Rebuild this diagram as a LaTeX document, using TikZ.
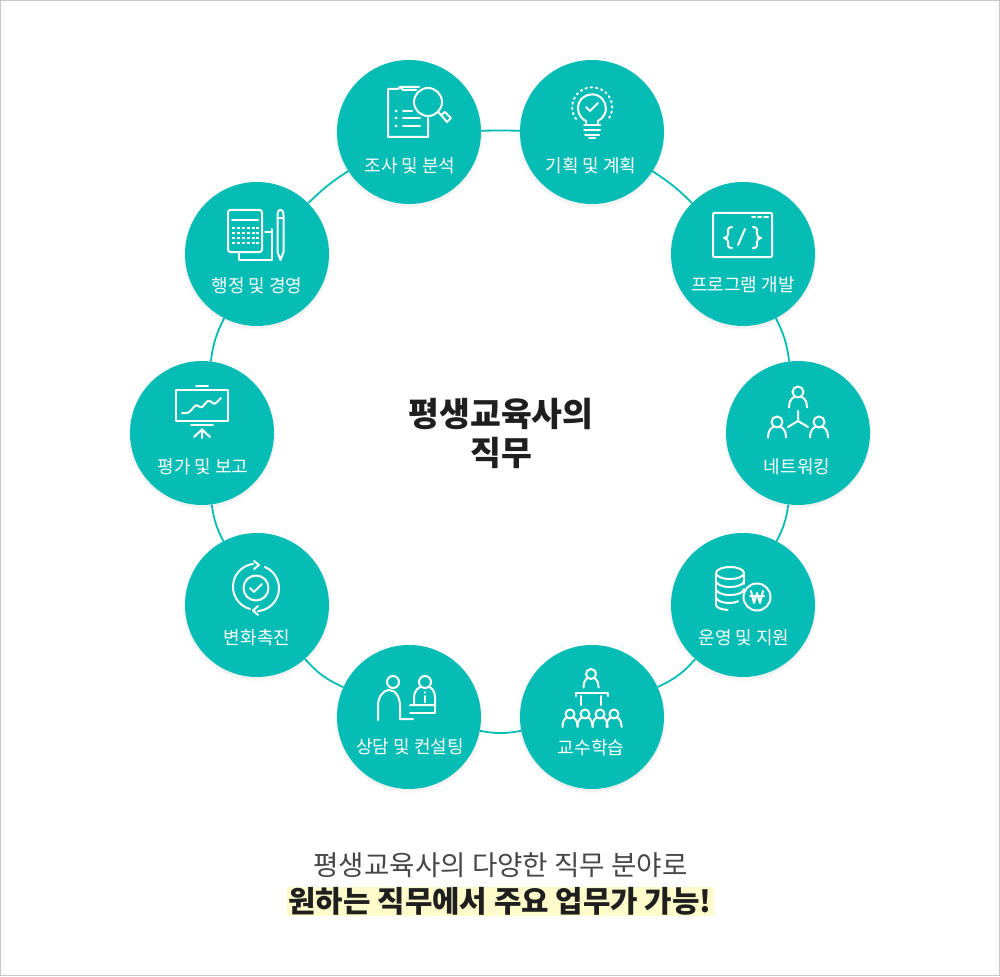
\documentclass[tikz,border=0pt]{standalone}
\usepackage{fontspec}
\usetikzlibrary{backgrounds}
\newfontfamily\kr{Noto Sans CJK KR}
\definecolor{teal1}{HTML}{06BDB6}
\definecolor{hl}{HTML}{FFFBCB}
\tikzset{
 hub/.style={circle,fill=teal1,minimum size=144pt,inner sep=0pt,
   preaction={draw=black,draw opacity=.02,line width=1.5pt,transform canvas={yshift=-1.5pt}},
   preaction={draw=black,draw opacity=.02,line width=3pt,transform canvas={yshift=-1.5pt}},
   preaction={draw=black,draw opacity=.015,line width=5pt,transform canvas={yshift=-2pt}}},
 lab/.style={text=white,font=\kr\fontsize{18pt}{22pt}\selectfont,inner sep=0pt},
 link/.style={draw=teal1,line width=1.8pt},
 ico/.style={draw=white,line width=2pt,line cap=round,line join=round},
 icothin/.style={draw=white,line width=2pt,line cap=round,line join=round},
}
\newcommand{\persona}[4]{% x y headr halfwidth
 \draw[ico] ({#1-#4},{#2+#3+#4+1}) -- ({#1-#4},{#2+#3+#4}) .. controls ({#1-#4},{#2+#3-5}) and ({#1+#4},{#2+#3-5}) .. ({#1+#4},{#2+#3+#4}) -- ({#1+#4},{#2+#3+#4+1});
 \draw[ico,fill=teal1] (#1,#2) circle[radius=#3];
}
\begin{document}
\begin{tikzpicture}[x=1pt,y=-1pt]
\useasboundingbox (0,0) rectangle (1000,976);

\node[hub] (a1) at (409,132) {};
\node[hub] (a2) at (592,132) {};
\node[hub] (a3) at (743,254) {};
\node[hub] (a4) at (798,433) {};
\node[hub] (a5) at (743,605) {};
\node[hub] (a6) at (592,717) {};
\node[hub] (a7) at (409,717) {};
\node[hub] (a8) at (257,605) {};
\node[hub] (a9) at (202,433) {};
\node[hub] (a10) at (257,254) {};

\begin{scope}[on background layer]
\fill[white] (0,0) rectangle (1000,976);
\draw[draw=black!22,line width=1pt] (.5,.5) rectangle (999.5,975.5);
\draw[link] (a1) to[bend left=1] (a2);
\draw[link] (a2) to[bend left=6] (a3);
\draw[link] (a3) to[bend left=10] (a4);
\draw[link] (a4) to[bend left=10] (a5);
\draw[link] (a5) to[bend left=12] (a6);
\draw[link] (a6) to[bend left=11] (a7);
\draw[link] (a7) to[bend left=12] (a8);
\draw[link] (a8) to[bend left=10] (a9);
\draw[link] (a9) to[bend left=10] (a10);
\draw[link] (a10) to[bend left=6] (a1);
\end{scope}

\node[lab] (l1) at (410,166) {조사 및 분석};
\node[lab] (l2) at (591,166) {기획 및 계획};
\node[lab] (l3) at (743,285) {프로그램 개발};
\node[lab] (l4) at (797,467) {네트워킹};
\node[lab] (l5) at (744,638) {운영 및 지원};
\node[lab] (l6) at (591,748) {교수학습};
\node[lab] (l7) at (410,747) {상담 및 컨설팅};
\node[lab] (l8) at (257,638) {변화촉진};
\node[lab] (l9) at (203,467) {평가 및 보고};
\node[lab] (l10) at (257,286) {행정 및 경영};

\node[inner sep=0pt,align=center,text=black!88,font=\kr\bfseries\fontsize{33.5pt}{39pt}\selectfont] (title) at (501,433) {평생교육사의\\직무};
\node[inner sep=0pt,text=black!72,font=\kr\fontsize{27.6pt}{34pt}\selectfont] (sub1) at (500.5,865) {평생교육사의 다양한 직무 분야로};
\fill[hl] (287,887) rectangle (714,916);
\node[inner sep=0pt,text=black!88,font=\kr\bfseries\fontsize{29.8pt}{34pt}\selectfont] (sub2) at (500,901) {원하는 직무에서 주요 업무가 가능!};

% icon 1 clipboard + magnifier
\draw[ico] (428,118) -- (428,137) -- (388,137) -- (388,89) -- (398,89) -- (400,87) -- (419,87);
\draw[ico] (400,87) -- (403,90) -- (416,90);
\draw[ico] (428,102) circle[radius=14];
\draw[ico] (438,112) -- (441,115);
\draw[ico] (441,115) -- (445,112) -- (451,118) -- (447,122) -- (441,115);
\draw[ico] (403,111) -- (412,111) (403,118) -- (420,118) (403,126) -- (420,126);
\fill[white] (396,111) circle[radius=1.5] (396,118) circle[radius=1.5] (396,126) circle[radius=1.5];

% icon 2 bulb
\draw[ico] (586,123) -- (586,121) arc[start angle=115,end angle=425,radius=14] -- (598,123);
\draw[icothin,dash pattern=on 1.5pt off 3.8pt] (576,119) arc[start angle=144,end angle=396,radius=20];
\draw[ico] (584,125) -- (600,125) (584,130) -- (600,130) (585,135) -- (599,135);
\draw[ico] (589,138) -- (595,138);
\draw[ico] (586,107) -- (590,111) -- (598,103);

% icon 3 window
\draw[ico,rounded corners=1pt] (713,213) rectangle (772,257);
\draw[ico] (752,217) -- (755,217) (758,217) -- (761,217) (764,217) -- (768,217);
\draw[ico] (732,227) .. controls (727,227) and (728,231) .. (728,234) .. controls (728,237) and (727,237) .. (724,238) .. controls (727,239) and (728,239) .. (728,242) .. controls (728,245) and (727,248) .. (732,248);
\draw[ico] (753,227) .. controls (758,227) and (757,231) .. (757,234) .. controls (757,237) and (758,237) .. (761,238) .. controls (758,239) and (757,239) .. (757,242) .. controls (757,245) and (758,248) .. (753,248);
\draw[ico] (745,229) -- (738,245);

% icon 4 network
\persona{798}{392}{5.5}{9}
\persona{777}{422}{5.5}{9}
\persona{819}{422}{5.5}{9}
\draw[ico] (798,411) -- (798,421) -- (788,427) (798,421) -- (808,427);

% icon 5 coins
\draw[ico] (730,573) ellipse[x radius=14,y radius=6];
\draw[ico] (716,573) -- (716,605);
\draw[ico] (716,605) arc[start angle=180,end angle=100,x radius=14,y radius=5];
\draw[ico] (716,581) arc[start angle=180,end angle=0,x radius=14,y radius=6];
\draw[ico] (744,573) -- (744,584);
\draw[ico] (716,589) arc[start angle=180,end angle=0,x radius=14,y radius=6];
\draw[ico] (716,597) arc[start angle=180,end angle=45,x radius=13,y radius=6];
\draw[ico] (757,597) circle[radius=13.5];
\draw[icothin] (751,591) -- (754,603) -- (757,593) -- (760,603) -- (763,591) (750,596) -- (764,596);

% icon 6 teaching
\persona{591}{674}{5}{7.5}
\draw[ico] (576,696) -- (576,693) -- (608,693) -- (608,696);
\draw[ico] (581,696) -- (581,705) (601,696) -- (601,705);
\persona{570}{714}{4.5}{7.5}
\persona{585}{714}{4.5}{7.5}
\persona{600}{714}{4.5}{7.5}
\persona{614}{714}{4.5}{7.5}

% icon 7 consulting
\draw[ico] (378,720) -- (378,706) .. controls (378,697) and (383,690) .. (389,690) .. controls (396,690) and (400,698) .. (400,706) -- (400,719) -- (413,719);
\draw[ico,fill=teal1] (393,682) circle[radius=6];
\draw[ico] (414,705) -- (414,698) .. controls (414,690) and (419,686) .. (425,686) .. controls (431,686) and (435,690) .. (435,698) -- (435,705) -- (410,705);
\draw[ico,fill=teal1] (425,682) circle[radius=6];
\draw[ico] (410,713) -- (435,713) -- (435,705);
\draw[ico] (425,696) -- (425,702);
\fill[white] (425,692.5) circle[radius=1.2];

% icon 8 cycle
\draw[ico] (256,588) circle[radius=12.5];
\draw[ico] (250,588) -- (254,592) -- (262,584);
\draw[ico] (250,609) arc[start angle=105,end angle=263,radius=23] ;
\draw[ico] (254,561) -- (259,565) -- (254,569);
\draw[ico] (265,567) arc[start angle=-67,end angle=85,radius=23];
\draw[ico] (258,606) -- (253,610.5) -- (258,615);

% icon 9 chart
\draw[ico] (176,390) rectangle (228,421);
\draw[ico] (196,386) -- (208,386) (191,425) -- (213,425);
\draw[ico] (202,429) -- (202,438) (194,437) -- (202,429.5) -- (210,437);
\draw[ico] (182,413) .. controls (188,414) and (190,412) .. (193,408) .. controls (196,404) and (198,405) .. (200,407) .. controls (203,409) and (205,402) .. (208,401) .. controls (212,400) and (213,406) .. (216,403) -- (221,398);

% icon 10 calculator
\draw[ico,rounded corners=2.5pt] (228,210) rectangle (262,252);
\draw[ico] (232,220) -- (258,220);
\foreach \yy in {228,233,238,243}{
 \foreach \xx in {233,238,243,248,253,257}{
  \fill[white] ({\xx-1.5},{\yy-1}) rectangle ({\xx+1.5},{\yy+1});
 }}
\draw[ico] (265,232) -- (271,232) (272,229) -- (272,260) -- (239,260) -- (239,253);
\draw[ico] (277.5,215) .. controls (277.5,208) and (283.5,208) .. (283.5,215) -- (283.5,252) -- (280.5,260) -- (277.5,252) -- cycle;
\draw[ico] (277.5,218) -- (283.5,218);
\end{tikzpicture}
\end{document}
